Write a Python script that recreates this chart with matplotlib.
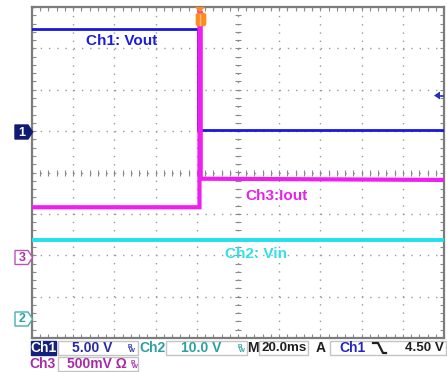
import numpy as np
import matplotlib
matplotlib.use("Agg")
import matplotlib.pyplot as plt
from matplotlib.patches import Polygon, Rectangle, FancyBboxPatch
from matplotlib.lines import Line2D

plt.rcParams['lines.scale_dashes'] = False
plt.rcParams['font.family'] = ['Liberation Sans', 'DejaVu Sans']

time_per_div_ms = 20.0
trigger_pos_div = 4.05          # trigger position from left edge (div)

# Ch1: Vout (V), 5.00 V/div, ground at +1.0 div
ch1_t = [-81.0, -0.6, -0.6, 119.0]
ch1_v = [12.35, 12.35, 0.11, 0.11]
ch1_scale, ch1_offset = 5.0, 1.0

# Ch2: Vin (V), 10.0 V/div, ground at -3.55 div
ch2_t = [-81.0, 119.0]
ch2_v = [19.3, 19.3]
ch2_scale, ch2_offset = 10.0, -3.55

# Ch3: Iout, 500 mV/div, ground at -2.04 div
ch3_t = [-81.0, 0.3, 0.3, 0.9, 0.9, 119.0]
ch3_v = [0.60, 0.60, 2.95, 2.95, 0.945, 0.93]
ch3_scale, ch3_offset = 0.5, -2.04

status_row1 = ["Ch1", "5.00 V", "Ch2", "10.0 V", "M", "20.0ms", "A", "Ch1", "4.50 V"]
status_row2 = ["Ch3", "500mV \u03a9"]

# ---------------- figure ----------------
W, H = 447, 372
fig = plt.figure(figsize=(W / 100, H / 100), dpi=100)
fig.patch.set_facecolor('white')


def px(x, y):
    return (x / W, 1 - y / H)


L, R, T, B = 32, 444, 7, 338
pos = [L / W, 1 - B / H, (R - L) / W, (B - T) / H]

# graticule
ax = fig.add_axes(pos)
ax.set_xlim(0, 10)
ax.set_ylim(-4, 4)
ax.set_xticks(np.arange(0, 11, 1))
ax.set_yticks(np.arange(-4, 5, 1))
ax.set_xticks(np.arange(0, 10.01, 0.2), minor=True)
ax.set_yticks(np.arange(-4, 4.01, 0.2), minor=True)
ax.tick_params(which='both', direction='in', length=3, width=0.8, color='#8a8a8a',
               top=True, right=True, labelbottom=False, labelleft=False)
ax.grid(True, which='major', color='#9a9a9a', lw=1.0, linestyle=(0, (1.0, 4.93)))
for s in ax.spines.values():
    s.set_color('#7c7c7c')
    s.set_linewidth(1.6)
cx = np.arange(0, 10.01, 0.2)
cy = np.arange(-4, 4.01, 0.2)
ax.plot(cx, np.zeros_like(cx), ls='none', marker='|', ms=4, mew=0.8, color='#8a8a8a')
ax.plot(np.full_like(cy, 5.0), cy, ls='none', marker='_', ms=4, mew=0.8, color='#8a8a8a')

t0 = -trigger_pos_div * time_per_div_ms
t1 = (10 - trigger_pos_div) * time_per_div_ms


def chan_axes(scale, offset):
    a = fig.add_axes(pos)
    a.set_xlim(t0, t1)
    a.set_ylim((-4 - offset) * scale, (4 - offset) * scale)
    a.axis('off')
    a.patch.set_alpha(0)
    return a


a2 = chan_axes(ch2_scale, ch2_offset)
a2.plot(ch2_t, ch2_v, color='#22e0ea', lw=2.8, solid_joinstyle='miter')
a1 = chan_axes(ch1_scale, ch1_offset)
a1.plot(ch1_t, ch1_v, color='#1818d8', lw=2.0, solid_joinstyle='miter')
a3 = chan_axes(ch3_scale, ch3_offset)
a3.plot(ch3_t, ch3_v, color='#f01ef0', lw=3.0, solid_joinstyle='miter')

# trace labels
fig.text(*px(86, 41), 'Ch1: Vout', color='#1c1cdc', fontsize=11, fontweight='bold',
         ha='left', va='center')
fig.text(*px(245, 196), 'Ch3:Iout', color='#e820e8', fontsize=11, fontweight='bold',
         ha='left', va='center')
fig.text(*px(225, 254), 'Ch2: Vin', color='#30e0ea', fontsize=11, fontweight='bold',
         ha='left', va='center')


def poly(pts, **kw):
    p = Polygon([px(x, y) for x, y in pts], closed=True, transform=fig.transFigure, **kw)
    fig.add_artist(p)


# channel ground markers
def marker(yc, label, face, edge, tcol):
    pts = [(15, yc - 7), (28, yc - 7), (32.5, yc), (28, yc + 7), (15, yc + 7)]
    poly(pts, facecolor=face, edgecolor=edge, lw=1.0)
    fig.text(*px(22, yc + 0.5), label, color=tcol, fontsize=9, fontweight='bold',
             ha='center', va='center')


marker(132, '1', '#101a72', '#101a72', 'white')
marker(257.5, '3', 'white', '#c050c0', '#a830a8')
marker(319, '2', 'white', '#40b0b0', '#30a0a0')

# trigger position marker
poly([(195, 7), (205, 7), (200, 12.5)], facecolor='#ff8a1e', edgecolor='none')
fb = FancyBboxPatch(px(196, 26), 10 / W, 13 / H, boxstyle='round,pad=0,rounding_size=0.006',
                    transform=fig.transFigure, facecolor='#ff8a1e', edgecolor='#ff8a1e', lw=0.5)
fig.add_artist(fb)
fig.add_artist(Line2D([200 / W, 200 / W], [1 - 15 / H, 1 - 25 / H], transform=fig.transFigure,
                      color='#ffc090', lw=1.0))

# trigger level arrow
poly([(434, 95.5), (440, 91.5), (440, 99.5)], facecolor='#2030b8', edgecolor='none')
fig.add_artist(Line2D([439 / W, 443 / W], [1 - 95.5 / H, 1 - 95.5 / H], transform=fig.transFigure,
                      color='#2030b8', lw=1.2))

# ---------------- status bar ----------------


def box(x0, x1, y0, y1, face='white', edge='#c4c4c4'):
    r = Rectangle(px(x0, y1), (x1 - x0) / W, (y1 - y0) / H, transform=fig.transFigure,
                  facecolor=face, edgecolor=edge, lw=1.0)
    fig.add_artist(r)


def stext(x, y, s, col, ha='center', fs=10):
    fig.text(*px(x, y), s, color=col, fontsize=fs, fontweight='bold', ha=ha, va='center')


def bw(x, y, col):
    fig.text(*px(x, y - 2), 'B', color=col, fontsize=4.5, fontweight='bold', ha='center', va='center')
    fig.text(*px(x + 2, y + 2), 'W', color=col, fontsize=4.5, fontweight='bold', ha='center', va='center')


y1 = 348
box(31, 56, 341, 355, face='#14207a', edge='#14207a')
stext(43.5, y1, status_row1[0], 'white')
box(58, 138, 341, 355)
stext(92, y1, status_row1[1], '#2a2aa8')
bw(130, y1, '#2a2aa8')
stext(152, y1, status_row1[2], '#2aa0a0')
box(166, 247, 341, 355)
stext(201, y1, status_row1[3], '#2aa0a0')
bw(240, y1, '#2aa0a0')
stext(253, y1, status_row1[4], '#202020')
box(259, 308, 341, 355)
stext(284, y1, status_row1[5], '#202020', fs=9.6)
stext(321, y1, status_row1[6], '#202020')
box(330, 446, 341, 355)
stext(353, y1, status_row1[7], '#2424c0')
fig.add_artist(Line2D([373 / W, 378 / W, 383 / W, 386 / W],
                      [1 - 343 / H, 1 - 343 / H, 1 - 353 / H, 1 - 353 / H],
                      transform=fig.transFigure, color='#202020', lw=1.6))
stext(444, y1, status_row1[8], '#202020', ha='right', fs=9.6)

y2 = 364
stext(43, y2, status_row2[0], '#a82aa8')
box(58, 138, 357, 371)
stext(97, y2, status_row2[1], '#a82aa8')
bw(133, y2, '#a82aa8')

fig.savefig('out.png', dpi=100, facecolor='white')
